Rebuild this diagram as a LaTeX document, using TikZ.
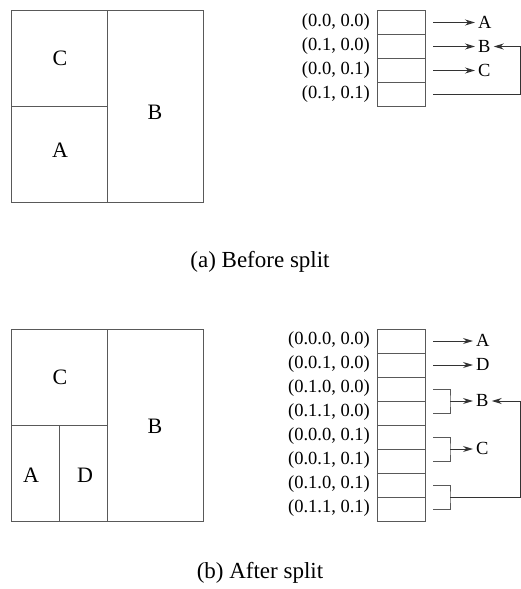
\documentclass[tikz,border=0pt]{standalone}
\usepackage{fontspec}
\setmainfont{Liberation Serif}
\usetikzlibrary{arrows.meta,calc}
\begin{document}
\begin{tikzpicture}[x=1pt,y=-1pt,
  ln/.style={draw=black!65,line width=1pt},
  cell/.style={ln,rectangle,minimum width=48pt,minimum height=24pt,inner sep=0pt,anchor=north west},
  key/.style={font=\fontsize{18.5}{18.5}\selectfont,anchor=east,inner sep=0pt},
  tgt/.style={font=\fontsize{18.5}{18.5}\selectfont,anchor=west,inner sep=3pt},
  reg/.style={font=\fontsize{22}{22}\selectfont,inner sep=0pt},
  captxt/.style={font=\fontsize{23}{23}\selectfont,inner sep=0pt},
  arr/.style={draw=black!80,line width=1pt,-{Stealth[length=10pt,width=6pt]}},
]
\useasboundingbox (0,0) rectangle (521,589);

% ---------- (a) Before split ----------
\draw[ln] (11,10) rectangle (203,202);
\draw[ln] (107,10) -- (107,202);
\draw[ln] (11,106) -- (107,106);
\node[reg] (aC) at (60,58) {C};
\node[reg] (aA) at (60,150) {A};
\node[reg] (aB) at (155,112) {B};

\node[cell] (ta1) at (377,10) {};
\node[cell] (ta2) at (377,34) {};
\node[cell] (ta3) at (377,58) {};
\node[cell] (ta4) at (377,82) {};
\node[key] (ka1) at (370,22) {(0.0, 0.0)};
\node[key] (ka2) at (370,46) {(0.1, 0.0)};
\node[key] (ka3) at (370,70) {(0.0, 0.1)};
\node[key] (ka4) at (370,94) {(0.1, 0.1)};

\node[tgt] (A1) at (475,22) {A};
\node[tgt] (B1) at (475,46) {B};
\node[tgt] (C1) at (475,70) {C};
\coordinate (ra) at (520,0);

\draw[arr] ([xshift=7pt]ta1.east) -- (ta1.east -| A1.west);
\draw[arr] ([xshift=7pt]ta2.east) -- (ta2.east -| B1.west);
\draw[arr] ([xshift=7pt]ta3.east) -- (ta3.east -| C1.west);
\draw[arr] ([xshift=7pt]ta4.east) -- (ta4.east -| ra) |- (ta2.east -| B1.east);

\node[captxt] (capa) at (260,262) {(a) Before split};

% ---------- (b) After split ----------
\draw[ln] (11,329) rectangle (203,521);
\draw[ln] (107,329) -- (107,521);
\draw[ln] (11,425) -- (107,425);
\draw[ln] (59,425) -- (59,521);
\node[reg] (bC) at (60,377) {C};
\node[reg] (bA) at (31,475) {A};
\node[reg] (bD) at (85,475) {D};
\node[reg] (bB) at (155,426) {B};

\foreach \i in {1,...,8}{
  \node[cell] (tb\i) at (377,{328.5+24*(\i-1)}) {};
}
\node[key] (kb1) at (370,340.5) {(0.0.0, 0.0)};
\node[key] (kb2) at (370,364.5) {(0.0.1, 0.0)};
\node[key] (kb3) at (370,388.5) {(0.1.0, 0.0)};
\node[key] (kb4) at (370,412.5) {(0.1.1, 0.0)};
\node[key] (kb5) at (370,436.5) {(0.0.0, 0.1)};
\node[key] (kb6) at (370,460.5) {(0.0.1, 0.1)};
\node[key] (kb7) at (370,484.5) {(0.1.0, 0.1)};
\node[key] (kb8) at (370,508.5) {(0.1.1, 0.1)};

\node[tgt] (A2) at (473,340.5) {A};
\node[tgt] (D2) at (473,364.5) {D};
\node[tgt] (B2) at (473,400.5) {B};
\node[tgt] (C2) at (473,448.5) {C};

\coordinate (jb) at ($($(tb3.east)!0.5!(tb4.east)$)+(24,0)$);
\coordinate (jc) at ($($(tb5.east)!0.5!(tb6.east)$)+(24,0)$);
\coordinate (jd) at ($($(tb7.east)!0.5!(tb8.east)$)+(24,0)$);

\draw[arr] ([xshift=7pt]tb1.east) -- (tb1.east -| A2.west);
\draw[arr] ([xshift=7pt]tb2.east) -- (tb2.east -| D2.west);

\draw[ln] ([xshift=7pt]tb3.east) -| (jb) |- ([xshift=7pt]tb4.east);
\draw[arr] (jb) -- (jb -| B2.west);
\draw[ln] ([xshift=7pt]tb5.east) -| (jc) |- ([xshift=7pt]tb6.east);
\draw[arr] (jc) -- (jc -| C2.west);
\draw[ln] ([xshift=7pt]tb7.east) -| (jd) |- ([xshift=7pt]tb8.east);
\draw[arr] (jd) -- (jd -| ra) |- (jb -| B2.east);

\node[captxt] (capb) at (260,573) {(b) After split};
\end{tikzpicture}
\end{document}
